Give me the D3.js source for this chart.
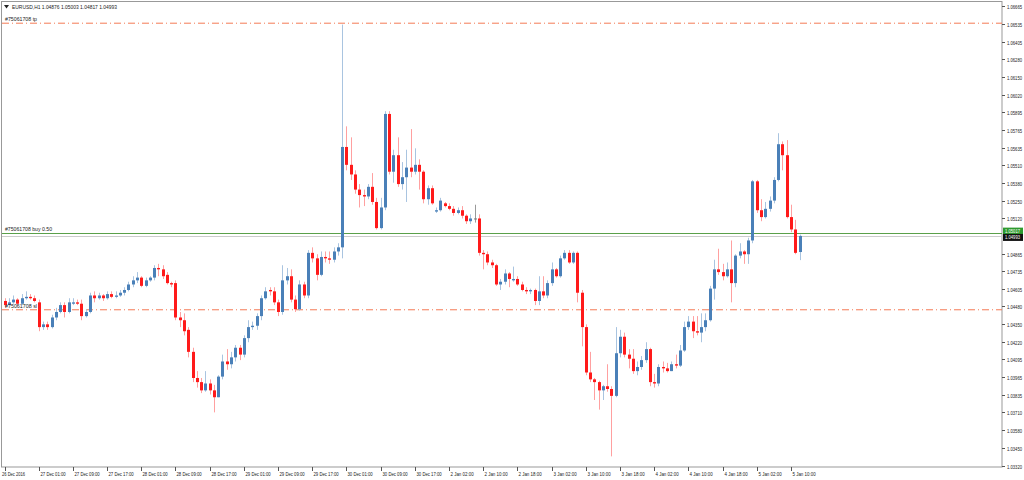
<!DOCTYPE html>
<html><head><meta charset="utf-8">
<script src="https://cdn.jsdelivr.net/npm/d3@7"></script>
<style>body{margin:0;background:#fff}svg{display:block}text{font-family:"Liberation Sans",Arial,sans-serif}</style>
</head><body><svg id="c" width="1024" height="480"></svg>
<script>
// prices in pips above 1.0000 (1.0453 -> 453)
const open =[452,449,451,453,450,454,455,454,451,433,435,433,440,444,449,444,450,451,450,441,444,456,454,456,454,457,455,456,458,460,464,467,469,463,467,469,476,475,471,465,
465,440,438,431,415,396,393,387,392,387,382,397,408,406,411,418,413,425,433,434,441,454,460,459,451,444,467,470,453,446,464,456,487,483,471,484,483,482,488,
491,564,551,544,533,529,528,535,524,505,520,588,546,558,537,542,549,546,551,546,526,534,517,518,523,521,519,516,518,514,510,512,512,487,486,480,478,464,466,472,
467,468,464,460,459,460,452,459,456,465,475,470,483,487,480,487,458,433,400,395,393,387,390,388,383,414,426,413,410,401,404,409,417,393,392,404,403,401,406,405,
416,433,437,430,429,433,438,461,475,473,470,475,465,485,488,486,496,539,518,513,519,525,540,566,558,513,504,487.6];
const high =[454,454,456,454,457,459,457,456,453,437,437,442,447,451,451,454,454,453,453,446,458,459,458,457,459,459,459,460,462,466,470,473,470,469,470,478,479,478,473,466,
467,444,443,433,418,401,396,401,395,391,398,413,417,415,420,420,427,438,437,443,456,462,462,462,453,478,476,475,456,467,466,489,491,486,488,488,488,491,494,
653,579,571,547,537,533,537,545,527,527,590,590,562,571,553,562,577,563,555,547,536,536,520,527,524,523,521,520,521,515,515,522,515,489,488,482,479,468,475,473,
477,470,466,462,461,461,470,470,467,480,476,485,489,489,488,488,460,435,415,396,394,391,406,390,433,431,429,417,417,408,412,422,418,399,406,408,407,408,413,420,
437,441,441,441,443,443,463,482,490,479,480,496,486,494,489,498,540,540,526,524,528,542,574,568,569,522,511,500.3];
const low  =[447,449,450,449,449,453,453,451,430,431,431,432,438,443,440,443,449,449,438,440,443,451,453,452,453,454,454,455,456,459,462,465,462,462,466,467,470,468,464,462,
438,433,427,411,393,389,385,386,384,371,382,395,402,403,408,409,411,422,431,431,438,453,456,449,441,442,464,451,444,445,454,454,480,467,470,480,479,480,485,
483,547,540,530,520,521,526,522,504,504,518,544,538,535,533,524,542,544,533,523,522,522,516,517,520,518,514,515,512,508,508,509,485,475,478,476,463,460,464,462,
466,463,459,457,457,449,449,454,454,463,469,469,482,479,479,451,419,398,393,380,373,380,386,339,382,411,411,403,399,398,402,407,390,389,390,400,400,401,403,404,
415,431,425,427,422,430,437,453,471,467,469,451,462,483,479,479,494,516,510,512,517,523,539,547,512,502,486,481.7];
const close=[449,451,453,450,454,455,454,452,433,435,433,440,444,449,444,451,451,450,441,444,456,454,456,454,457,455,456,458,460,464,467,469,463,467,469,476,475,470,465,464,
440,438,430,415,396,393,387,392,387,382,397,408,406,411,418,413,425,433,434,441,454,459,459,451,444,467,470,453,446,464,456,487,483,471,484,483,482,488,491,
564,551,544,533,529,528,535,524,505,520,588,546,558,537,542,549,546,551,546,526,534,523,518,525,521,519,516,518,514,510,512,512,487,486,480,478,464,466,472,468,
468,464,460,459,460,452,459,456,465,475,470,483,487,480,487,458,433,400,395,393,387,390,388,383,414,426,413,410,401,404,409,417,393,392,404,403,401,406,405,416,
433,437,430,429,433,438,461,475,473,470,475,465,485,488,486,496,539,518,513,519,525,540,566,558,513,504,487,499.3];
const timeLabels=["26 Dec 2016","27 Dec 01:00","27 Dec 09:00","27 Dec 17:00","28 Dec 01:00","28 Dec 09:00","28 Dec 17:00","29 Dec 01:00","29 Dec 09:00","29 Dec 17:00","30 Dec 01:00","30 Dec 09:00","30 Dec 17:00","2 Jan 02:00","2 Jan 10:00","2 Jan 18:00","3 Jan 02:00","3 Jan 10:00","3 Jan 18:00","4 Jan 02:00","4 Jan 10:00","4 Jan 18:00","5 Jan 02:00","5 Jan 10:00"];
const priceTicks=[1.06665,1.06535,1.06405,1.06280,1.06150,1.06020,1.05895,1.05765,1.05635,1.05510,1.05380,1.05250,1.05120,1.04865,1.04735,1.04605,1.04480,1.04350,1.04220,1.04095,1.03965,1.03835,1.03710,1.03580,1.03450,1.03320];
const tpPrice=1.0654, slPrice=1.04456, buyPrice=1.05017, bidPrice=1.04993;
const header="EURUSD,H1  1.04876 1.05003 1.04817 1.04993";

const P=v=>1+v/10000;
const svg=d3.select("#c");
const y=d3.scaleLinear().domain([1.03320,1.06665]).range([466,6]);
const x=d3.scaleLinear().domain([0,186]).range([4.5,799.5]);
const R=1002, B=467;
svg.append("rect").attr("x",1.5).attr("y",1.5).attr("width",R-1.5).attr("height",B-1.5).attr("fill","none").attr("stroke","#999").attr("stroke-width",1);
const dash="7,3,1,3";
svg.append("line").attr("x1",2).attr("x2",R).attr("y1",y(tpPrice)).attr("y2",y(tpPrice)).attr("stroke","#f47a55").attr("stroke-dasharray",dash);
svg.append("line").attr("x1",2).attr("x2",R).attr("y1",y(slPrice)).attr("y2",y(slPrice)).attr("stroke","#f47a55").attr("stroke-dasharray",dash);
svg.append("line").attr("x1",2).attr("x2",R).attr("y1",Math.round(y(bidPrice))+.5).attr("y2",Math.round(y(bidPrice))+.5).attr("stroke","#ccc");
svg.append("line").attr("x1",2).attr("x2",R).attr("y1",Math.round(y(buyPrice))+.5).attr("y2",Math.round(y(buyPrice))+.5).attr("stroke","#5aa04a");
const data=open.map((o,i)=>({i,o:P(open[i]),h:P(high[i]),l:P(low[i]),c:P(close[i])}));
const col=d=>d.c>d.o?"#4a80b8":(d.c<d.o?"#ff1a1a":"#777");
const wick=d=>d.c>d.o?"#a9c4e0":(d.c<d.o?"#ffa0a0":"#999");
const g=svg.append("g");
g.selectAll("line.w").data(data).join("line").attr("x1",d=>Math.round(x(d.i))+.5).attr("x2",d=>Math.round(x(d.i))+.5)
 .attr("y1",d=>y(d.h)).attr("y2",d=>y(d.l)).attr("stroke",wick).attr("stroke-width",1);
g.selectAll("rect").data(data).join("rect").attr("x",d=>Math.round(x(d.i))-1).attr("width",3)
 .attr("y",d=>y(Math.max(d.o,d.c))).attr("height",d=>Math.max(1,Math.abs(y(d.o)-y(d.c)))).attr("fill",col);
const t=(s,X,Y,o={})=>{const e=svg.append("text").attr("x",X).attr("y",Y).attr("font-size",o.fs||6).attr("fill",o.f||"#222").attr("text-anchor",o.a||"start").text(s);
 if(o.w) e.attr("textLength",o.w).attr("lengthAdjust","spacingAndGlyphs"); return e;};
svg.append("path").attr("d","M4,5 L9,5 L6.5,8.5Z").attr("fill","#222");
t(header,12,9,{fs:6,w:105});
t("#75061708 tp",5,y(tpPrice)-2,{w:32});
t("#75061708 buy 0.50",5,y(buyPrice)-2,{w:47});
t("#75061708 sl",5,y(slPrice)-2,{w:32});
priceTicks.forEach(p=>{const yy=Math.round(y(p))+.5;
 svg.append("line").attr("x1",R).attr("x2",R+3).attr("y1",yy).attr("y2",yy).attr("stroke","#555");
 t(p.toFixed(5),R+5,yy+2,{fs:5,w:15});});
[[buyPrice,"#2e9a2e","#fff"],[bidPrice,"#111","#fff"]].forEach(([p,bg,fg],k)=>{
 const yy=y(p)+(k?1.5:-1.5);
 svg.append("rect").attr("x",R+1).attr("y",yy-3.5).attr("width",20).attr("height",7).attr("fill",bg);
 t(p.toFixed(5),R+3,yy+2,{fs:5,f:fg,w:15});});
timeLabels.forEach((s,k)=>{const xx=Math.round(x(k*8))+.5;
 svg.append("line").attr("x1",xx).attr("x2",xx).attr("y1",B).attr("y2",B+4).attr("stroke","#555");
 t(s,k?xx+1:2,B+9,{fs:5.5,w:s.length*2.1});});
</script></body></html>
